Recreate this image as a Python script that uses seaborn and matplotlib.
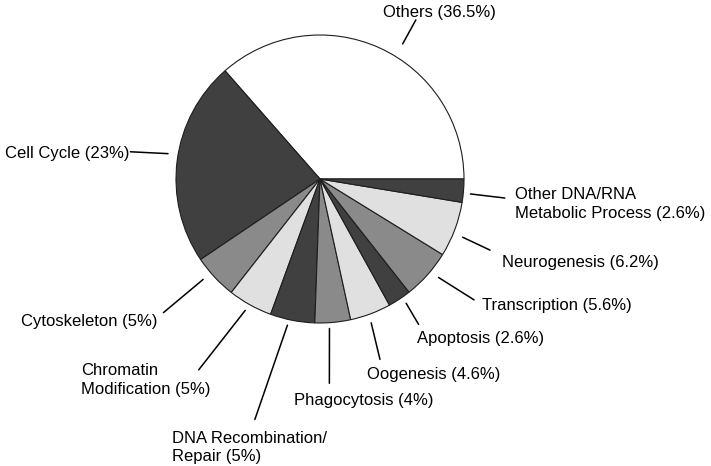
import numpy as np
import matplotlib
matplotlib.use("Agg")
import matplotlib.pyplot as plt
import seaborn as sns

# ─── Data ─────────────────────────────────────────────────────────────────────
labels = [
    "Others (36.5%)",
    "Cell Cycle (23%)",
    "Cytoskeleton (5%)",
    "Chromatin\nModification (5%)",
    "DNA Recombination/\nRepair (5%)",
    "Phagocytosis (4%)",
    "Oogenesis (4.6%)",
    "Apoptosis (2.6%)",
    "Transcription (5.6%)",
    "Neurogenesis (6.2%)",
    "Other DNA/RNA\nMetabolic Process (2.6%)",
]
shares = [36.5, 23, 5, 5, 5, 4, 4.6, 2.6, 5.6, 6.2, 2.6]

# ─── Style ────────────────────────────────────────────────────────────────────
sns.set_theme(style="white")
plt.rcParams["font.family"] = ["Liberation Sans", "DejaVu Sans"]

WHITE, DARK, MID, LIGHT = "#ffffff", "#404040", "#8a8a8a", "#e0e0e0"
colors = [WHITE, DARK, MID, LIGHT, DARK, MID, LIGHT, DARK, MID, LIGHT, DARK]

# leader lines: radii and angle tweaks (deg) relative to the wedge middle
line_r0 = [1.10, 1.07, 1.07, 1.05, 1.04, 1.04, 1.06, 1.05, 1.07, 1.07, 1.05]
line_r1 = [1.29, 1.33, 1.43, 1.57, 1.73, 1.42, 1.32, 1.22, 1.36, 1.28, 1.29]
ang_a0  = [-7.1, -2.1, -2.3, -0.6, -1.5, -1.5, -1.0, 1.2, 2.0, -1.7, -1.0]
ang_a1  = [-6.7, -0.8, -2.5, -3.4, -4.1, -2.5, -2.2, 0.6, 3.6, -2.2, -1.2]
# label offsets (px) from the outer end of the leader line
text_off = [(24, 7), (-1, -2), (-6, -9), (-118, -10), (-83, -28), (-35, -17),
            (-13, -15), (-2, -14), (8, -6), (12, -12), (10, -6)]
text_ha = ["center", "right", "right", "left", "left", "left",
           "left", "left", "left", "left", "left"]

W, H, R = 711, 466, 144
CX, CY = 320, 179

fig = plt.figure(figsize=(W / 100, H / 100), dpi=100)
ax = fig.add_axes([0, 0, 1, 1])
ax.axis("off")

wedges, _ = ax.pie(
    shares,
    colors=colors,
    startangle=0,
    counterclock=True,
    radius=1,
    center=(0, 0),
    wedgeprops=dict(edgecolor="#1e1e1e", linewidth=0.8),
)
ax.set_aspect("auto")
ax.set_xlim(-CX / R, (W - CX) / R)
ax.set_ylim(-(H - CY) / R, CY / R)

for i, w in enumerate(wedges):
    mid = (w.theta1 + w.theta2) / 2
    a0 = np.deg2rad(mid + ang_a0[i])
    a1 = np.deg2rad(mid + ang_a1[i])
    x0, y0 = line_r0[i] * np.cos(a0), line_r0[i] * np.sin(a0)
    x1, y1 = line_r1[i] * np.cos(a1), line_r1[i] * np.sin(a1)
    ax.plot([x0, x1], [y0, y1], color="black", lw=1.1)
    ax.annotate(labels[i], xy=(x1, y1), xytext=text_off[i],
                textcoords="offset pixels", ha=text_ha[i], va="center",
                fontsize=12, color="black", multialignment="left",
                linespacing=1.3)

fig.savefig("out.png", dpi=100)
